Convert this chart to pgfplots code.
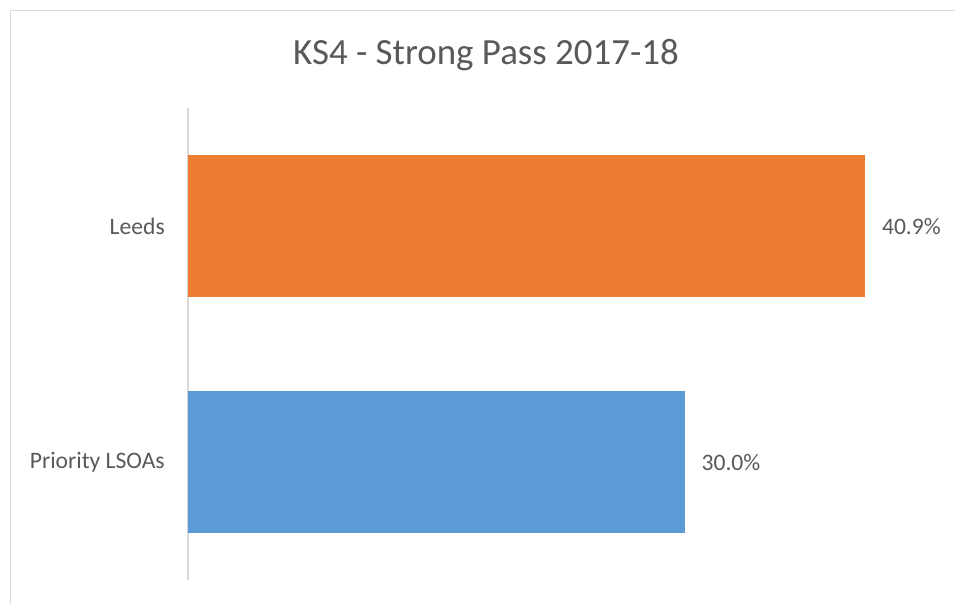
\documentclass[border=0pt]{standalone}
\usepackage{pgfplots}
\pgfplotsset{compat=1.18}
\usepackage{fontspec}
\setmainfont{Carlito}
\definecolor{txt}{HTML}{595959}
\definecolor{gridc}{HTML}{D9D9D9}
\definecolor{orangeb}{HTML}{ED7D31}
\definecolor{blueb}{HTML}{5B9BD5}
\begin{document}
\begin{tikzpicture}
\path[use as bounding box] (0,0) rectangle (716.25pt,452.25pt);
\draw[gridc, line width=0.9pt] (7.9pt,-5pt) -- (7.9pt,444.4pt) -- (725pt,444.4pt);
\node[txt, font=\fontsize{27.7}{31}\selectfont, anchor=base] at (364.5pt,404pt) {KS4 - Strong Pass 2017-18};
\begin{axis}[
  at={(141pt,105.5pt)}, anchor=origin,
  scale only axis, width=558.75pt, height=354pt,
  xbar, bar width=106.5pt, bar shift=0pt,
  xmin=0, xmax=45, ymin=-0.5, ymax=1.5,
  hide x axis,
  axis y line*=left,
  y axis line style={gridc, line width=1.1pt, -},
  ytick={0,1}, yticklabels={Priority LSOAs, Leeds},
  major tick length=0pt,
  yticklabel style={txt, font=\fontsize{17.7}{20}\selectfont, inner sep=0pt, xshift=-17.25pt},
  point meta=x,
  /pgf/number format/assume math mode=true,
  nodes near coords={\pgfmathprintnumber[fixed,fixed zerofill,precision=1,assume math mode=true]{\pgfplotspointmeta}\%},
  nodes near coords style={txt, font=\fontsize{17.7}{20}\selectfont, anchor=west, inner sep=0pt, xshift=12.5pt},
  clip=false,
]
\addplot[draw=none, fill=orangeb] coordinates {(40.9,1)};
\addplot[draw=none, fill=blueb] coordinates {(30.0,0)};
\end{axis}
\end{tikzpicture}
\end{document}
